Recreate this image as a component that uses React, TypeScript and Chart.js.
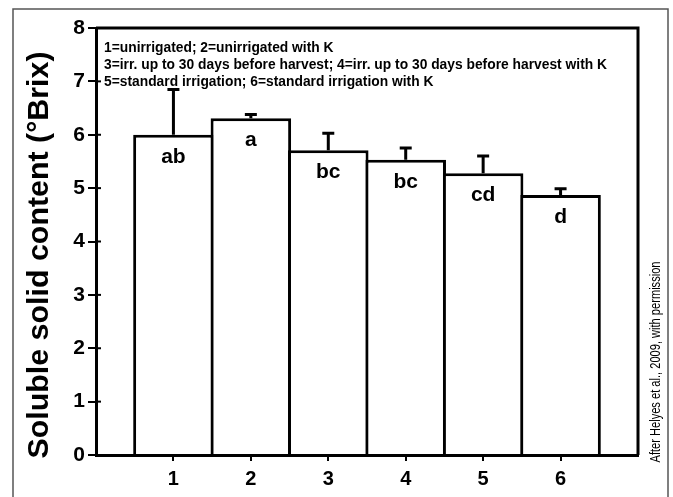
import React, { useEffect, useRef } from 'react';
import { Chart, registerables } from 'chart.js';
Chart.register(...registerables);

const categories = [1, 2, 3, 4, 5, 6];
const means = [6.0, 6.31, 5.71, 5.53, 5.28, 4.87];
const errors = [0.85, 0.07, 0.32, 0.22, 0.32, 0.12];
const letters = ['ab', 'a', 'bc', 'bc', 'cd', 'd'];
const yMin = 0;
const yMax = 8;
const xMin = 0;
const xMax = 7;
const legendLines = [
  '1=unirrigated; 2=unirrigated with K',
  '3=irr. up to 30 days before harvest; 4=irr. up to 30 days before harvest with K',
  '5=standard irrigation; 6=standard irrigation with K',
];
const yTitle = 'Soluble solid content (°Brix)';
const credit = 'After Helyes et al., 2009, with permission';

const FONT = "'Liberation Sans', Arial, sans-serif";

const decor = {
  id: 'decor',
  beforeDraw(chart: any) {
    const { ctx, width, height } = chart;
    ctx.save();
    ctx.fillStyle = '#ffffff';
    ctx.fillRect(0, 0, width, height);
    ctx.strokeStyle = '#555555';
    ctx.lineWidth = 1.5;
    ctx.beginPath();
    ctx.moveTo(13, height);
    ctx.lineTo(13, 9);
    ctx.lineTo(668, 9);
    ctx.lineTo(668, height);
    ctx.stroke();
    ctx.restore();
  },
  afterDatasetsDraw(chart: any) {
    const { ctx } = chart;
    const xs = chart.scales.x;
    const ys = chart.scales.y;
    ctx.save();
    ctx.strokeStyle = '#000';
    ctx.lineWidth = 3;
    categories.forEach((c, i) => {
      const x = xs.getPixelForValue(c);
      const y0 = ys.getPixelForValue(means[i]);
      const y1 = ys.getPixelForValue(means[i] + errors[i]);
      ctx.beginPath();
      ctx.moveTo(x, y0);
      ctx.lineTo(x, y1);
      ctx.moveTo(x - 6, y1);
      ctx.lineTo(x + 6, y1);
      ctx.stroke();
    });
    ctx.fillStyle = '#000';
    ctx.font = `bold 21px ${FONT}`;
    ctx.textAlign = 'center';
    ctx.textBaseline = 'middle';
    categories.forEach((c, i) => {
      const x = xs.getPixelForValue(c);
      const y0 = ys.getPixelForValue(means[i]);
      ctx.fillText(letters[i], x, y0 + 22);
    });
    ctx.restore();
  },
  afterDraw(chart: any) {
    const { ctx, chartArea } = chart;
    const ys = chart.scales.y;
    ctx.save();
    ctx.strokeStyle = '#000';
    ctx.lineWidth = 3;
    ctx.beginPath();
    ctx.moveTo(chartArea.left, chartArea.top);
    ctx.lineTo(chartArea.right, chartArea.top);
    ctx.lineTo(chartArea.right, chartArea.bottom);
    ctx.stroke();
    ctx.lineWidth = 2;
    ys.ticks.forEach((t: any) => {
      const y = ys.getPixelForValue(t.value);
      ctx.beginPath();
      ctx.moveTo(chartArea.left, y);
      ctx.lineTo(chartArea.left + 5, y);
      ctx.stroke();
    });
    // axis title
    ctx.fillStyle = '#000';
    ctx.font = `bold 30px ${FONT}`;
    const tw = ctx.measureText(yTitle).width;
    ctx.save();
    ctx.translate(40, 255);
    ctx.rotate(-Math.PI / 2);
    ctx.scale(407 / tw, 1);
    ctx.textAlign = 'center';
    ctx.textBaseline = 'middle';
    ctx.fillText(yTitle, 0, 0);
    ctx.restore();
    // legend text
    ctx.font = `bold 15px ${FONT}`;
    ctx.textBaseline = 'middle';
    ctx.textAlign = 'left';
    const w = ctx.measureText(legendLines[1]).width;
    const sx = 503 / w;
    legendLines.forEach((line, i) => {
      ctx.save();
      ctx.translate(chartArea.left + 8, chartArea.top + 20 + i * 17);
      ctx.scale(sx, 1);
      ctx.fillText(line, 0, 0);
      ctx.restore();
    });
    // credit
    ctx.font = `14px ${FONT}`;
    const cw = ctx.measureText(credit).width;
    ctx.save();
    ctx.translate(656, 362);
    ctx.rotate(-Math.PI / 2);
    ctx.scale(201 / cw, 1);
    ctx.textAlign = 'center';
    ctx.fillText(credit, 0, 0);
    ctx.restore();
    ctx.restore();
  },
};

export default function App() {
  const ref = useRef<HTMLCanvasElement>(null);
  useEffect(() => {
    if (!ref.current) return;
    const chart = new Chart(ref.current, {
      type: 'bar',
      data: {
        datasets: [
          {
            data: categories.map((c, i) => ({ x: c, y: means[i] })),
            backgroundColor: '#ffffff',
            borderColor: '#000000',
            borderWidth: 3,
            barPercentage: 1.04,
            categoryPercentage: 1,
          },
        ],
      },
      options: {
        animation: false,
        responsive: true,
        maintainAspectRatio: false,
        layout: { padding: { left: 23, top: 28, right: 35, bottom: 0 } },
        plugins: { legend: { display: false }, tooltip: { enabled: false } },
        scales: {
          x: {
            type: 'linear',
            min: xMin,
            max: xMax,
            offset: false,
            afterBuildTicks: (s: any) => {
              s.ticks = categories.map((v) => ({ value: v }));
            },
            afterFit: (s: any) => {
              s.height = 42;
            },
            grid: { display: true, drawOnChartArea: false, drawTicks: true, tickLength: 6, color: '#000', lineWidth: 2, offset: false },
            border: { display: true, color: '#000', width: 3, z: 1 },
            ticks: { color: '#000', font: { family: FONT, size: 20, weight: 'bold' }, padding: 6, maxRotation: 0 },
          },
          y: {
            min: yMin,
            max: yMax,
            afterFit: (s: any) => {
              s.width = 73;
            },
            grid: { display: true, drawOnChartArea: false, drawTicks: true, tickLength: 8, color: '#000', lineWidth: 2 },
            border: { display: true, color: '#000', width: 3, z: 1 },
            ticks: { stepSize: 1, color: '#000', font: { family: FONT, size: 21, weight: 'bold' }, padding: 3 },
            title: { display: false },
          },
        },
      },
      plugins: [decor],
    } as any);
    return () => chart.destroy();
  }, []);
  return (
    <div style={{ position: 'absolute', left: 0, top: 0, width: 673, height: 497 }}>
      <canvas ref={ref} />
    </div>
  );
}
